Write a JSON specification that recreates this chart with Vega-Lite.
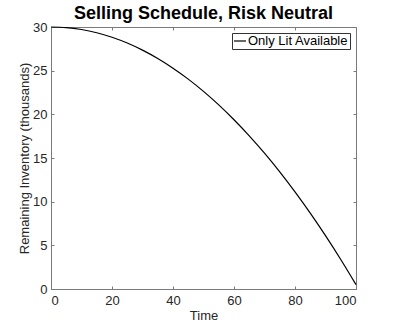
{
  "$schema": "https://vega.github.io/schema/vega-lite/v6.json",
  "width": 305,
  "height": 262,
  "autosize": {"type": "none"},
  "padding": {"left": 51, "top": 27, "right": 37, "bottom": 37},
  "background": "white",
  "title": {
    "text": "Selling Schedule, Risk Neutral",
    "font": "Liberation Sans",
    "fontSize": 18,
    "fontWeight": "bold",
    "color": "#000000",
    "anchor": "middle",
    "frame": "group",
    "baseline": "alphabetic",
    "offset": -16
  },
  "config": {
    "view": {"stroke": "#7a7a7a", "strokeWidth": 1},
    "axis": {
      "grid": false,
      "labelFont": "Liberation Sans",
      "labelFontSize": 13,
      "labelColor": "#262626",
      "titleFont": "Liberation Sans",
      "titleFontSize": 13,
      "titleFontWeight": "normal",
      "titleColor": "#262626",
      "domainColor": "#7a7a7a",
      "tickColor": "#7a7a7a",
      "tickSize": -3,
      "minExtent": 0
    },
    "legend": {
      "labelFont": "Liberation Sans",
      "labelFontSize": 13,
      "labelColor": "#000000",
      "strokeColor": "#333333",
      "fillColor": "white",
      "padding": 1,
      "offset": 6,
      "symbolType": "stroke",
      "symbolSize": 144,
      "symbolStrokeWidth": 1.2,
      "labelOffset": 1
    }
  },
  "data": {
    "values": [
      {"t": 0, "inv": 30.0, "series": "Only Lit Available"},
      {"t": 5, "inv": 29.93, "series": "Only Lit Available"},
      {"t": 10, "inv": 29.71, "series": "Only Lit Available"},
      {"t": 15, "inv": 29.34, "series": "Only Lit Available"},
      {"t": 20, "inv": 28.82, "series": "Only Lit Available"},
      {"t": 25, "inv": 28.16, "series": "Only Lit Available"},
      {"t": 30, "inv": 27.35, "series": "Only Lit Available"},
      {"t": 35, "inv": 26.39, "series": "Only Lit Available"},
      {"t": 40, "inv": 25.28, "series": "Only Lit Available"},
      {"t": 45, "inv": 24.03, "series": "Only Lit Available"},
      {"t": 50, "inv": 22.63, "series": "Only Lit Available"},
      {"t": 55, "inv": 21.08, "series": "Only Lit Available"},
      {"t": 60, "inv": 19.38, "series": "Only Lit Available"},
      {"t": 65, "inv": 17.54, "series": "Only Lit Available"},
      {"t": 70, "inv": 15.55, "series": "Only Lit Available"},
      {"t": 75, "inv": 13.41, "series": "Only Lit Available"},
      {"t": 80, "inv": 11.12, "series": "Only Lit Available"},
      {"t": 85, "inv": 8.69, "series": "Only Lit Available"},
      {"t": 90, "inv": 6.11, "series": "Only Lit Available"},
      {"t": 95, "inv": 3.38, "series": "Only Lit Available"},
      {"t": 100, "inv": 0.5, "series": "Only Lit Available"}
    ]
  },
  "layer": [
    {
      "mark": {"type": "line", "strokeWidth": 1.2, "interpolate": "monotone"},
      "encoding": {
        "x": {
          "field": "t", "type": "quantitative",
          "scale": {"domain": [0, 100], "nice": false, "zero": false},
          "axis": {"values": [0, 20, 40, 60, 80, 100], "title": "Time", "labelPadding": 8, "titlePadding": 2}
        },
        "y": {
          "field": "inv", "type": "quantitative",
          "scale": {"domain": [0, 30], "nice": false},
          "axis": {"values": [0, 5, 10, 15, 20, 25, 30], "title": "Remaining Inventory (thousands)", "labelPadding": 7, "titlePadding": 1}
        },
        "color": {
          "field": "series", "type": "nominal",
          "scale": {"range": ["#000000"]},
          "legend": {"title": null, "orient": "top-right"}
        }
      }
    },
    {
      "mark": {"type": "line", "opacity": 0},
      "encoding": {
        "x": {
          "field": "t", "type": "quantitative",
          "scale": {"domain": [0, 100], "nice": false, "zero": false},
          "axis": {"orient": "top", "values": [0, 20, 40, 60, 80, 100], "labels": false, "title": null, "domain": false}
        },
        "y": {
          "field": "inv", "type": "quantitative",
          "scale": {"domain": [0, 30], "nice": false},
          "axis": {"orient": "right", "values": [0, 5, 10, 15, 20, 25, 30], "labels": false, "title": null, "domain": false}
        }
      }
    }
  ],
  "resolve": {"axis": {"x": "independent", "y": "independent"}}
}
